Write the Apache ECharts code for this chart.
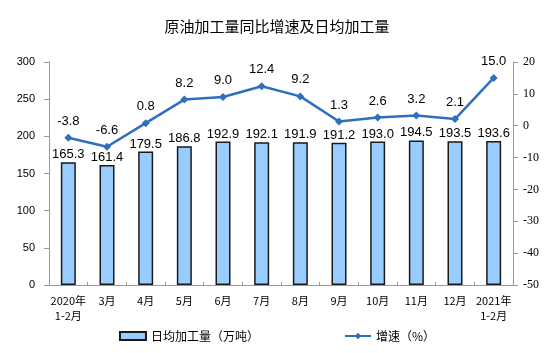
<!DOCTYPE html>
<html>
<head>
<meta charset="utf-8">
<script src="https://cdn.jsdelivr.net/npm/echarts@6/dist/echarts.min.js"></script>
<style>
  html, body { margin: 0; padding: 0; background: #fff; }
  #chart { width: 554px; height: 353px; }
</style>
</head>
<body>
<div id="chart"></div>
<script>
var categories = ['2020年\n1-2月', '3月', '4月', '5月', '6月', '7月', '8月', '9月', '10月', '11月', '12月', '2021年\n1-2月'];
var dailyOutput = [165.3, 161.4, 179.5, 186.8, 192.9, 192.1, 191.9, 191.2, 193.0, 194.5, 193.5, 193.6];
var growth = [-3.8, -6.6, 0.8, 8.2, 9.0, 12.4, 9.2, 1.3, 2.6, 3.2, 2.1, 15.0];

var cjk = '"Noto Sans CJK SC", sans-serif';
var latin = '"Liberation Sans", Arial, sans-serif';

var chart = echarts.init(document.getElementById('chart'));

var option = {
  animation: false,
  backgroundColor: '#fff',
  title: {
    text: '原油加工量同比增速及日均加工量',
    left: 'center',
    top: 14,
    textStyle: { fontFamily: cjk, fontSize: 15, fontWeight: 'normal', color: '#000' }
  },
  legend: {
    bottom: 6,
    left: 'center',
    itemGap: 85,
    itemWidth: 26,
    itemHeight: 8,
    textStyle: { fontFamily: cjk, fontSize: 12, color: '#000' },
    data: [
      { name: '日均加工量（万吨）', icon: 'rect' },
      { name: '增速（%）' }
    ]
  },
  grid: { left: 49, right: 41, top: 62, bottom: 68 },
  xAxis: {
    type: 'category',
    data: categories,
    axisLine: { lineStyle: { color: '#999' } },
    axisTick: { show: true, length: 3, inside: true, lineStyle: { color: '#999' } },
    axisLabel: { fontFamily: cjk, fontSize: 11, color: '#000', margin: 8, lineHeight: 15, interval: 0 }
  },
  yAxis: [
    {
      type: 'value',
      min: 0, max: 300, interval: 50,
      splitLine: { show: false },
      axisLine: { show: true, lineStyle: { color: '#999' } },
      axisTick: { show: true, length: 5, lineStyle: { color: '#999' } },
      axisLabel: { fontFamily: latin, fontSize: 11, color: '#000', margin: 14 }
    },
    {
      type: 'value',
      min: -50, max: 20, interval: 10,
      splitLine: { show: false },
      axisLine: { show: true, lineStyle: { color: '#999' } },
      axisTick: { show: true, length: 5, lineStyle: { color: '#999' } },
      axisLabel: { fontFamily: '"Liberation Serif", serif', fontSize: 12, color: '#000', margin: 10 }
    }
  ],
  series: [
    {
      name: '日均加工量（万吨）',
      type: 'bar',
      data: dailyOutput,
      barWidth: 15,
      itemStyle: { color: '#99ccff', borderColor: '#1a1a1a', borderWidth: 1.5 },
      label: {
        show: true,
        position: 'top',
        distance: 1,
        fontFamily: latin,
        fontSize: 13,
        color: '#000',
        formatter: function (p) { return p.value.toFixed(1); }
      }
    },
    {
      name: '增速（%）',
      type: 'line',
      yAxisIndex: 1,
      data: growth,
      symbol: 'diamond',
      symbolSize: 8,
      lineStyle: { color: '#2e6fbe', width: 2.5 },
      itemStyle: { color: '#2e6fbe' },
      label: {
        show: true,
        position: 'top',
        distance: 6,
        fontFamily: latin,
        fontSize: 13,
        color: '#000',
        formatter: function (p) { return p.value.toFixed(1); }
      }
    }
  ]
};

chart.setOption(option);
window.onresize = function () { chart.resize(); };
</script>
</body>
</html>
